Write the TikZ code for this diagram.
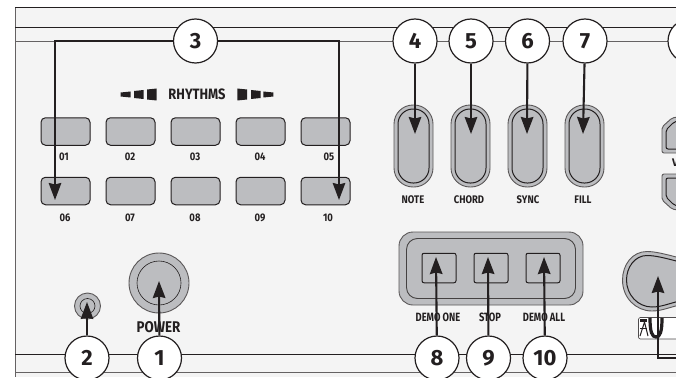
\documentclass[tikz,border=0pt]{standalone}
\usepackage{fontspec}
\setmainfont{Fira Sans}
\usetikzlibrary{arrows.meta}
\definecolor{panel}{HTML}{F4F4F4}
\definecolor{btn}{HTML}{BCBDC0}
\definecolor{ink}{HTML}{231F20}
\tikzset{
  arr/.style={draw=ink,line width=2.1pt,-{Stealth[length=17pt,width=12.5pt,inset=1.5pt]}},
  num/.style={circle,draw=ink,line width=1.2pt,fill=white,minimum size=44pt,inner sep=0pt,text=ink,font=\fontsize{22}{22}\selectfont\bfseries},
  rect/.style={draw=ink,line width=1pt,fill=btn,rounded corners=4.5pt,minimum width=49pt,minimum height=27.5pt,inner sep=0pt},
  pillout/.style={draw=ink!75,line width=.9pt,fill=btn,rounded corners=19pt,minimum width=39pt,minimum height=82pt,inner sep=0pt},
  pillin/.style={draw=ink,line width=1pt,rounded corners=15pt,minimum width=31pt,minimum height=74pt,inner sep=0pt},
  demoout/.style={draw=ink!75,line width=.9pt,fill=btn,rounded corners=14pt,minimum width=184pt,minimum height=73pt,inner sep=0pt},
  demoin/.style={draw=ink!85,line width=.9pt,rounded corners=11pt,minimum width=169pt,minimum height=60pt,inner sep=0pt},
  demobtn/.style={draw=ink,line width=1pt,rounded corners=2pt,minimum width=34pt,minimum height=29.5pt,inner sep=0pt},
  roundout/.style={circle,draw=ink!75,line width=.9pt,fill=btn,inner sep=0pt},
  roundin/.style={circle,draw=ink,line width=.6pt,inner sep=0pt},
  lab/.style={text=ink,inner sep=0pt,font=\fontsize{11}{11}\selectfont\bfseries},
  demolab/.style={lab,font=\fontsize{12}{12}\selectfont\bfseries},
  panelline/.style={draw=ink,line width=1pt},
  panelgray/.style={draw=ink!70,line width=1pt},
  hexout/.style={draw=ink!75,line width=.9pt,fill=btn,rounded corners=2pt},
  hexin/.style={draw=ink,line width=1pt,rounded corners=2pt},
  rmark/.style={fill=ink,draw=none}
}
\newcommand{\narrowlab}[1]{\scalebox{.86}[1]{#1}}
\newcommand{\narrowdemo}[1]{\scalebox{.78}[1]{#1}}
\begin{document}
\begin{tikzpicture}[x=1pt,y=-1pt]
\clip (0,0) rectangle (676,377);
\fill[white] (0,0) rectangle (676,377);
\fill[panel] (15,8) rectangle (676,377);
\draw[panelline] (676,8) -- (15,8);
\draw[panelgray] (15,8) -- (15,377);
\draw[panelline] (15,28) -- (676,28);
\draw[panelgray] (15,42) -- (676,42);
\draw[panelline] (15,354) -- (676,354);
\draw[panelgray] (15,372) -- (676,372);

% rhythm markers
\fill[rmark] (120.7,92.5) -- (130.7,91.5) -- (130.7,97.5) -- (120.7,96.5) -- cycle;
\fill[rmark] (134,91) -- (143.5,90) -- (143.5,99) -- (134,98) -- cycle;
\fill[rmark] (147,89.5) -- (156.7,88.5) -- (156.7,100.5) -- (147,99.5) -- cycle;
\fill[rmark] (247,89.5) -- (237.3,88.5) -- (237.3,100.5) -- (247,99.5) -- cycle;
\fill[rmark] (260.5,91) -- (251,90) -- (251,99) -- (260.5,98) -- cycle;
\fill[rmark] (273.3,92.5) -- (263.3,91.5) -- (263.3,97.5) -- (273.3,96.5) -- cycle;
\node[lab,font=\fontsize{15}{15}\selectfont\bfseries] (rhythms) at (197,94.5) {\narrowlab{RHYTHMS}};

% rhythm buttons
\foreach \n/\x/\y in {01/65.5/131.5,02/130.5/131.5,03/195.5/131.5,04/260.5/131.5,05/325.5/131.5,
                          06/65.5/191,07/130.5/191,08/195.5/191,09/260.5/191,10/325.5/191}{
  \node[rect] (b\n) at (\x,\y) {};
}
\foreach \n/\lx/\ly in {01/64/157,02/130/157,03/195/157,04/260/157,05/329/157,
                        06/65/217.5,07/130/217.5,08/195/217.5,09/260/217.5,10/328/217.5}{
  \node[lab] (l\n) at (\lx,\ly) {\narrowlab{\n}};
}

% pill buttons
\foreach \k/\x in {4/413.5,5/470.5,6/527.5,7/584.5}{
  \node[pillout] (po\k) at (\x,146) {};
  \node[pillin] (pi\k) at (\x,146) {};
}
\node[lab] (lnote) at (413,200) {\narrowlab{NOTE}};
\node[lab] (lchord) at (469,200) {\narrowlab{CHORD}};
\node[lab] (lsync) at (528,200) {\narrowlab{SYNC}};
\node[lab] (lfill) at (583,200) {\narrowlab{FILL}};

% hex buttons
\path[hexout] (680,116.5) -- (672,118) -- (662,127) -- (662,153) -- (680,153) -- cycle;
\path[hexin] (680,120.5) -- (674,122) -- (666,130) -- (666,149) -- (680,149) -- cycle;
\node[lab,anchor=west] (lv) at (672,163) {V};
\path[hexout] (680,174) -- (662,174) -- (662,200) -- (672,209) -- (680,210.5) -- cycle;
\path[hexin] (680,178) -- (666,178) -- (666,197) -- (674,205) -- (680,206.5) -- cycle;

% power
\node[roundout,minimum size=60pt] (pwo) at (159,283) {};
\node[roundin,minimum size=44pt] (pwi) at (159,283) {};
\node[lab,font=\fontsize{15.5}{15.5}\selectfont\bfseries] (lpower) at (158.5,327) {\narrowlab{POWER}};
\node[roundout,minimum size=26pt] (jo) at (87.5,306) {};
\node[roundin,minimum size=15pt] (ji) at (87.5,306) {};

% demo group
\node[demoout] (dmo) at (491,268.5) {};
\node[demoin] (dmi) at (491,268.5) {};
\node[demobtn] (d8) at (439,268) {};
\node[demobtn] (d9) at (491,268) {};
\node[demobtn] (d10) at (543,268) {};
\node[demolab] (ldone) at (438,317.5) {\narrowdemo{DEMO ONE}};
\node[demolab] (ldstop) at (490,317.5) {\narrowdemo{STOP}};
\node[demolab] (ldall) at (544,317.5) {\narrowdemo{DEMO ALL}};

% big right button
\path[draw=ink!75,line width=.9pt,fill=btn] (680,258) .. controls (665,254) and (655,251.5) .. (647,251.5)
  .. controls (632,251.5) and (622.5,265) .. (622.5,280)
  .. controls (622.5,298) and (636,311) .. (652,311)
  .. controls (662,311) and (670,307) .. (680,305) -- cycle;
\path[draw=ink,line width=1pt] (680,262) .. controls (665,258) and (655,255.5) .. (647,255.5)
  .. controls (635,255.5) and (626.5,267) .. (626.5,280)
  .. controls (626.5,295) and (638,307) .. (652,307)
  .. controls (662,307) and (670,303) .. (680,301);
% badge
\path[draw=ink!80,line width=.7pt,fill=white,rounded corners=2pt] (680,317.5) -- (638.5,317.5) -- (638.5,339) -- (680,339);
\fill[ink] (640,319) rectangle (647,321.5);
\draw[ink,line width=1pt] (640,336) -- (644.5,322) -- (648,336);
\draw[ink,line width=.9pt] (640,328) -- (647,328);
\draw[ink,line width=3.2pt] (650,318) .. controls (650,332) and (652,337) .. (656,337) .. controls (660,337) and (662,332) .. (662,318);

% arrow ends
\coordinate (t3a) at (55,200);
\coordinate (t3b) at (339,200);
\coordinate (t4) at (415,134);
\coordinate (t5) at (471,134);
\coordinate (t6) at (527,134);
\coordinate (t7) at (583,134);
\coordinate (t1) at (159,281);
\coordinate (t2) at (87,302);
\coordinate (t8) at (436,257);
\coordinate (t9) at (488,257);
\coordinate (t10) at (544,257);
\coordinate (t11) at (658,276);
\coordinate (s11) at (690,358);

% number nodes
\node[num] (n3) at (195.5,41) {3};
\node[num] (n4) at (415,41) {4};
\node[num] (n5) at (471,41) {5};
\node[num] (n6) at (527.5,41) {6};
\node[num] (n7) at (585,41) {7};
\node[num] (n8r) at (690,41) {};
\node[num] (n2) at (87,358) {2};
\node[num] (n1) at (159.5,358) {1};
\node[num] (n8) at (437,358) {8};
\node[num] (n9) at (488.5,358) {9};
\node[num] (n10) at (545,358) {10};

% connectors
\draw[arr] (n3) -| (t3a);
\draw[arr] (n3) -| (t3b);
\draw[arr] (n4) -- (t4);
\draw[arr] (n5) -- (t5);
\draw[arr] (n6) -- (t6);
\draw[arr] (n7) -- (t7);
\draw[arr] (n1) -- (t1);
\draw[arr] (n2) -- (t2);
\draw[arr] (n8) -- (t8);
\draw[arr] (n9) -- (t9);
\draw[arr] (n10) -- (t10);
\draw[arr] (s11) -| (t11);
\end{tikzpicture}
\end{document}
